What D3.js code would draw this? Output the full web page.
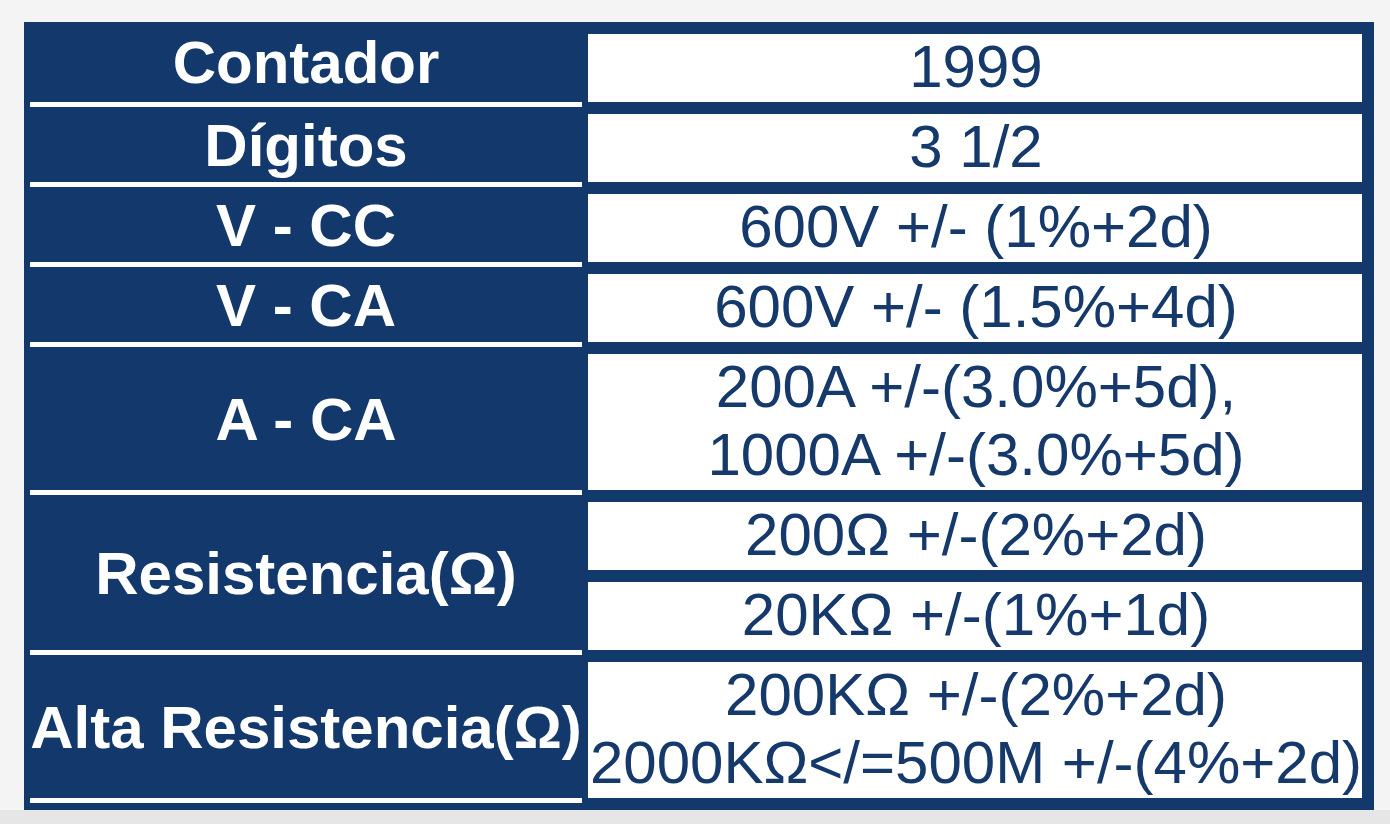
<!DOCTYPE html>
<html>
<head>
<meta charset="utf-8">
<style>
  body, svg { margin: 0; padding: 0; }
  body { background-color: #f4f4f4; }
  svg { display: block; }
  text.label { font-family: "Liberation Sans", Arial, sans-serif; font-weight: bold; fill: #ffffff; }
  text.value { font-family: "Liberation Sans", Arial, sans-serif; fill: #15396b; }
</style>
</head>
<body>
<svg id="table"></svg>
<script src="https://cdn.jsdelivr.net/npm/d3@7"></script>
<script>
// left column labels and how many value cells each one covers
var labels = ["Contador", "Dígitos", "V - CC", "V - CA", "A - CA", "Resistencia(Ω)", "Alta Resistencia(Ω)"];
var labelCells = [1, 1, 1, 1, 1, 2, 1];

// right column cells, one array of text lines per cell
var values = [
    ["1999"],
    ["3 1/2"],
    ["600V +/- (1%+2d)"],
    ["600V +/- (1.5%+4d)"],
    ["200A +/-(3.0%+5d),", "1000A +/-(3.0%+5d)"],
    ["200Ω +/-(2%+2d)"],
    ["20KΩ +/-(1%+1d)"],
    ["200KΩ +/-(2%+2d)", "2000KΩ</=500M +/-(4%+2d)"]
];

var W = 1390, H = 824;
var navy = "#13386b";
var lineH = 68, gap = 12;

var svg = d3.select("svg#table").attr("width", W).attr("height", H);

// layout: each cell is n lines tall, cells separated by a navy gap
var cells = [];
var lineCount = 0;
values.forEach(function (v, i) {
    cells.push({ idx: i, start: lineCount, n: v.length, lines: v });
    lineCount += v.length;
});
var yLine = d3.scaleLinear().domain([0, lineCount]).range([34, 34 + lineCount * lineH]);
function cellTop(c) { return yLine(c.start) + c.idx * gap; }
function cellBottom(c) { return yLine(c.start + c.n) + c.idx * gap; }

var x = d3.scaleLinear().domain([0, 1]).range([588, 1362]);   // right column
var xl = d3.scaleLinear().domain([0, 1]).range([24, 588]);    // left column

var tableBottom = cellBottom(cells[cells.length - 1]) + gap;

// bottom grey band
svg.append("rect").attr("x", 0).attr("y", tableBottom).attr("width", W).attr("height", H - tableBottom)
    .attr("fill", "#e6e6e6");

// outer navy block
svg.append("rect").attr("x", 24).attr("y", 22).attr("width", 1374 - 24).attr("height", tableBottom - 22)
    .attr("fill", navy);

// white value cells
var cg = svg.append("g").selectAll("g.cell").data(cells).enter().append("g").attr("class", "cell");
cg.append("rect")
    .attr("x", x(0)).attr("width", x(1) - x(0))
    .attr("y", cellTop)
    .attr("height", function (d) { return cellBottom(d) - cellTop(d); })
    .attr("fill", "#ffffff");
cg.selectAll("text").data(function (d) {
        return d.lines.map(function (t, k) { return { t: t, y: yLine(d.start + k + 0.5) + d.idx * gap }; });
    }).enter().append("text")
    .attr("class", "value")
    .attr("x", (x(0) + x(1)) / 2 + 1)
    .attr("y", function (d) { return d.y + 19; })
    .attr("text-anchor", "middle")
    .style("font-size", "60px")
    .text(function (d) { return d.t; });

// left labels with white separator lines below
var groups = [];
var ci = 0;
labels.forEach(function (lab, i) {
    var last = cells[ci + labelCells[i] - 1];
    groups.push({ label: lab, bottom: cellBottom(last) });
    ci += labelCells[i];
});
groups.forEach(function (g, i) { g.top = i == 0 ? 22 : groups[i - 1].bottom + 5; });

var lg = svg.append("g").selectAll("g.label").data(groups).enter().append("g");
lg.append("rect")
    .attr("x", 30).attr("width", 582 - 30)
    .attr("y", function (d) { return d.bottom; })
    .attr("height", 5)
    .attr("fill", "#ffffff");
lg.append("text")
    .attr("class", "label")
    .attr("x", (xl(0) + xl(1)) / 2)
    .attr("y", function (d) { return (d.top + d.bottom) / 2 + 21; })
    .attr("text-anchor", "middle")
    .style("font-size", "60px")
    .text(function (d) { return d.label; });
</script>
</body>
</html>
